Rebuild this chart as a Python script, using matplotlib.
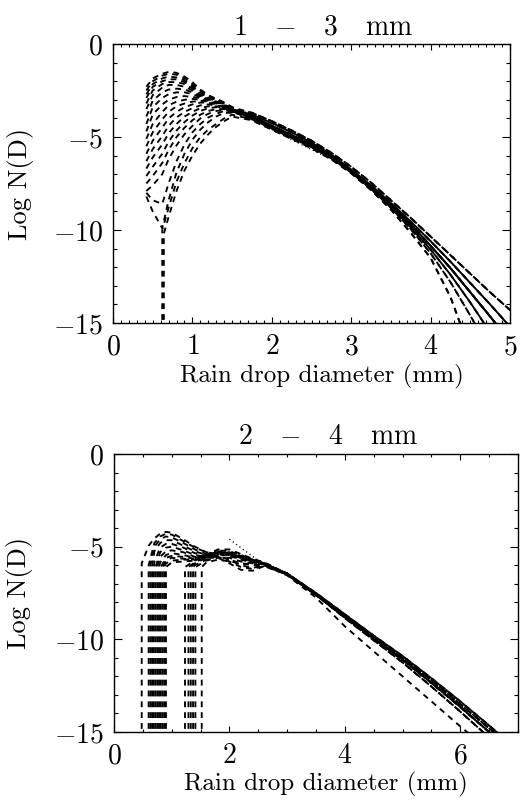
import numpy as np
import matplotlib
matplotlib.use("Agg")
import matplotlib.pyplot as plt
from matplotlib.ticker import MultipleLocator

nan = np.nan

# ---------------- panel 1 : 1 - 3 mm ----------------
top_title = "1   $-$   3   mm"
top_head_d = [0.5, 0.62, 0.7, 0.8, 0.9, 1.0, 1.1, 1.2, 1.3, 1.4, 1.5]
top_start_d = [0.42] * 19 + [0.62, 0.64]
top_start_y = [-2.3, -2.5, -2.7, -2.9, -3.2, -3.5, -3.9, -4.3,
               -4.7, -5.1, -5.5, -5.9, -6.3, -6.7, -7.1, -7.5, -7.9,
               -8.2, -8.0, -10.0, -10.2]
top_drop = [False] * 19 + [True, True]
top_heads = [
    [-1.85, -1.6, -1.5, -1.55, -1.75, -2.05, -2.45, -2.75, -2.95, -3.15, -3.4],
    [-2.0, -1.7, -1.6, -1.65, -1.85, -2.15, -2.5, -2.8, -2.95, -3.15, -3.4],
    [-2.15, -1.85, -1.75, -1.8, -1.95, -2.25, -2.6, -2.85, -3.0, -3.2, -3.45],
    [-2.3, -2.0, -1.9, -1.9, -2.05, -2.3, -2.65, -2.85, -3.0, -3.2, -3.45],
    [-2.5, -2.15, -2.05, -2.05, -2.15, -2.4, -2.7, -2.9, -3.05, -3.2, -3.45],
    [-2.75, -2.35, -2.2, -2.2, -2.3, -2.5, -2.75, -2.9, -3.05, -3.25, -3.5],
    [-3.05, -2.6, -2.45, -2.4, -2.45, -2.6, -2.8, -2.95, -3.1, -3.25, -3.5],
    [-3.4, -2.9, -2.7, -2.6, -2.6, -2.7, -2.85, -2.95, -3.1, -3.25, -3.5],
    [-3.8, -3.25, -3.0, -2.85, -2.8, -2.85, -2.9, -3.0, -3.1, -3.3, -3.5],
    [-4.3, -3.65, -3.3, -3.1, -3.0, -2.95, -3.0, -3.05, -3.15, -3.3, -3.5],
    [-4.75, -4.05, -3.65, -3.35, -3.2, -3.1, -3.05, -3.1, -3.2, -3.35, -3.55],
    [-5.2, -4.5, -4.0, -3.65, -3.4, -3.25, -3.15, -3.15, -3.25, -3.4, -3.55],
    [-5.65, -4.95, -4.4, -3.95, -3.65, -3.45, -3.3, -3.25, -3.3, -3.4, -3.6],
    [-6.1, -5.4, -4.8, -4.3, -3.9, -3.65, -3.45, -3.35, -3.35, -3.45, -3.6],
    [-6.6, -5.9, -5.25, -4.65, -4.2, -3.85, -3.6, -3.45, -3.4, -3.45, -3.6],
    [-7.1, -6.4, -5.7, -5.0, -4.5, -4.1, -3.8, -3.6, -3.5, -3.5, -3.65],
    [-7.6, -7.0, -6.2, -5.45, -4.85, -4.4, -4.0, -3.75, -3.6, -3.55, -3.65],
    [-9.0, -9.9, -8.4, -6.9, -5.9, -5.15, -4.6, -4.2, -3.9, -3.7, -3.7],
    [-8.4, -8.6, -7.5, -6.3, -5.4, -4.75, -4.3, -3.95, -3.75, -3.6, -3.65],
    [nan, nan, -8.8, -7.4, -6.4, -5.6, -5.0, -4.6, -4.3, -4.0, -3.8],
    [nan, nan, -9.3, -7.9, -6.8, -6.0, -5.35, -4.85, -4.45, -4.15, -3.9],
]
top_tail_d = [1.75, 2.0, 2.25, 2.5, 2.75, 3.0, 3.25, 3.5, 3.75, 4.0, 4.25, 4.5, 4.75, 5.0, 5.25]
top_tails = [
    [-3.7, -4.15, -4.65, -5.2, -5.85, -6.6, -7.45, -8.4, -9.35, -10.35, -11.35, -12.35, -13.35, -14.3, -15.3],
    [-3.8, -4.25, -4.75, -5.3, -5.95, -6.75, -7.6, -8.55, -9.55, -10.6, -11.7, -12.85, -14.0, -15.2, nan],
    [-3.9, -4.4, -4.9, -5.4, -6.05, -6.85, -7.7, -8.65, -9.7, -10.85, -12.05, -13.35, -14.65, -16.0, nan],
    [-4.0, -4.5, -5.0, -5.5, -6.1, -6.9, -7.75, -8.75, -9.85, -11.05, -12.4, -13.9, -15.5, nan, nan],
    [-4.05, -4.55, -5.05, -5.55, -6.15, -6.9, -7.8, -8.8, -9.95, -11.25, -12.8, -14.6, -16.5, nan, nan],
    [-4.1, -4.6, -5.1, -5.6, -6.2, -6.95, -7.85, -8.9, -10.15, -11.5, -13.6, -16.5, nan, nan, nan],
]
top_tail_pick = [0, 2, 1, 2, 3, 0, 2, 1, 4, 2, 3, 1, 2, 5, 2, 0, 3, 1, 2, 4, 5]
top_dot_d = [2.0, 3.0]
top_dot_y = [-4.6, -6.75]

# ---------------- panel 2 : 2 - 4 mm ----------------
bot_title = "2   $-$   4   mm"
bot_head_d = [0.6, 0.7, 0.8, 0.9, 1.0, 1.2, 1.4, 1.6, 1.8, 2.0, 2.2, 2.4, 2.6]
bot_start_d = [0.48, 0.60, 0.63, 0.66, 0.69, 0.72, 0.75, 0.78, 0.81, 0.84, 0.87, 0.90,
               1.23, 1.29, 1.33, 1.37, 1.41, 1.52]
bot_start_y = [-5.9, -6.0, -6.0, -6.05] + [-6.1] * 14
bot_heads = [
    [-4.95, -4.55, -4.3, -4.2, -4.25, -4.6, -5.0, -5.3, -5.4, -5.45, -5.55, -5.7, -5.85],
    [nan, -4.8, -4.45, -4.3, -4.35, -4.7, -5.05, -5.3, -5.4, -5.5, -5.6, -5.75, -5.9],
    [nan, -5.0, -4.6, -4.45, -4.5, -4.8, -5.15, -5.4, -5.35, -5.45, -5.6, -5.75, -5.9],
    [nan, -5.25, -4.8, -4.65, -4.65, -4.95, -5.25, -5.45, -5.3, -5.4, -5.6, -5.8, -5.95],
    [nan, -5.8, -5.05, -4.85, -4.85, -5.05, -5.35, -5.5, -5.3, -5.35, -5.55, -5.75, -5.9],
    [nan, nan, -5.3, -5.05, -5.0, -5.2, -5.45, -5.55, -5.25, -5.3, -5.5, -5.7, -5.9],
    [nan, nan, -5.55, -5.25, -5.2, -5.3, -5.55, -5.6, -5.2, -5.25, -5.45, -5.7, -5.9],
    [nan, nan, -5.85, -5.45, -5.35, -5.45, -5.6, -5.5, -5.3, -5.4, -5.6, -5.8, -5.95],
    [nan, nan, nan, -5.6, -5.5, -5.55, -5.65, -5.45, -5.35, -5.5, -5.7, -5.85, -5.95],
    [nan, nan, nan, -5.75, -5.6, -5.65, -5.7, -5.45, -5.5, -5.7, -5.9, -6.0, -6.0],
    [nan, nan, nan, -5.9, -5.75, -5.7, -5.7, -5.55, -5.55, -5.8, -6.1, -6.2, -6.05],
    [nan, nan, nan, nan, -5.85, -5.8, -5.75, -5.6, -5.6, -5.9, -6.25, -6.3, -6.05],
    [nan, nan, nan, nan, nan, nan, -5.75, -5.45, -5.15, -5.15, -5.4, -5.65, -5.85],
    [nan, nan, nan, nan, nan, nan, -5.85, -5.55, -5.3, -5.35, -5.55, -5.75, -5.9],
    [nan, nan, nan, nan, nan, nan, -5.9, -5.6, -5.4, -5.5, -5.65, -5.8, -5.9],
    [nan, nan, nan, nan, nan, nan, -6.0, -5.7, -5.5, -5.7, -6.0, -6.15, -6.0],
    [nan, nan, nan, nan, nan, nan, nan, -5.75, -5.6, -5.6, -5.8, -5.9, -5.95],
    [nan, nan, nan, nan, nan, nan, nan, -5.85, -5.7, -5.8, -5.9, -5.95, -6.0],
]
bot_tail_d = [3.0, 3.5, 4.0, 4.5, 5.0, 5.5, 6.0, 6.5, 7.0]
bot_tails = [
    [-6.45, -7.5, -8.65, -9.8, -10.9, -12.1, -13.35, -14.65, -16.0],
    [-6.45, -7.55, -8.7, -9.85, -11.0, -12.2, -13.5, -14.8, -16.1],
    [-6.5, -7.6, -8.8, -9.95, -11.1, -12.35, -13.65, -15.0, -16.3],
    [-6.5, -7.6, -8.85, -10.05, -11.25, -12.55, -13.9, -15.3, nan],
    [-6.55, -7.75, -9.3, -10.65, -12.0, -13.35, -14.7, -16.0, nan],
]
bot_tail_pick = [2, 0, 1, 2, 3, 2, 1, 0, 2, 4, 3, 2, 1, 2, 0, 3, 2, 1]
bot_dot_d = [2.0, 2.5]
bot_dot_y = [-4.6, -5.75]

plt.rcParams['font.family'] = 'cmr10'
plt.rcParams['mathtext.fontset'] = 'cm'
plt.rcParams['axes.formatter.use_mathtext'] = True
plt.rcParams['lines.scale_dashes'] = False

DASH = (0, (4.2, 3.6))
DOT = (0, (0.8, 2.2))


def build(x0, y0, drop, grid, head, tail_d, tail):
    xs, ys = [], []
    if drop:
        xs.append(x0)
        ys.append(-16.0)
    xs.append(x0)
    ys.append(y0)
    for g, v in zip(grid, head):
        if g > x0 and not np.isnan(v):
            xs.append(g)
            ys.append(v)
    for g, v in zip(tail_d, tail):
        if not np.isnan(v):
            xs.append(g)
            ys.append(v)
    return xs, ys


def style(ax, xmax, xmajor, xminor):
    ax.set_xlim(0, xmax)
    ax.set_ylim(-15, 0)
    ax.xaxis.set_major_locator(MultipleLocator(xmajor))
    ax.xaxis.set_minor_locator(MultipleLocator(xminor))
    ax.yaxis.set_major_locator(MultipleLocator(5))
    ax.yaxis.set_minor_locator(MultipleLocator(1))
    ax.tick_params(which='both', direction='in', top=True, right=True, width=0.8)
    ax.tick_params(axis='x', which='major', length=4, pad=8, labelsize=20)
    ax.tick_params(axis='x', which='minor', length=2)
    ax.tick_params(axis='y', which='major', length=6, pad=7, labelsize=20)
    ax.tick_params(axis='y', which='minor', length=3)
    for s in ax.spines.values():
        s.set_linewidth(1.0)
    ax.set_xlabel("Rain drop diameter (mm)", fontsize=18)
    ax.set_ylabel("Log N(D)", fontsize=19)
    ax.xaxis.set_label_coords(0.525, -0.145)
    ax.yaxis.set_label_coords(-0.2, 0.5)


fig = plt.figure(figsize=(5.22, 8), dpi=100)
ax1 = fig.add_axes([0.2165, 0.59625, 0.7605, 0.34875])
ax2 = fig.add_axes([0.2184, 0.085, 0.774, 0.3475])

for i in range(len(top_heads)):
    xs, ys = build(top_start_d[i], top_start_y[i], top_drop[i], top_head_d, top_heads[i],
                   top_tail_d, top_tails[top_tail_pick[i]])
    ax1.plot(xs, ys, color='black', lw=1.35, linestyle=DASH)
ax1.plot(top_dot_d, top_dot_y, color='black', lw=1.0, linestyle=DOT)
style(ax1, 5, 1, 0.1)
ax1.set_title(top_title, fontsize=20, pad=7, x=0.53)

for i in range(len(bot_heads)):
    xs, ys = build(bot_start_d[i], bot_start_y[i], True, bot_head_d, bot_heads[i],
                   bot_tail_d, bot_tails[bot_tail_pick[i]])
    ax2.plot(xs, ys, color='black', lw=1.35, linestyle=DASH)
ax2.plot(bot_dot_d, bot_dot_y, color='black', lw=1.0, linestyle=DOT)
style(ax2, 7, 2, 0.5)
ax2.set_title(bot_title, fontsize=20, pad=7, x=0.53)

fig.savefig("out.png", dpi=100)
